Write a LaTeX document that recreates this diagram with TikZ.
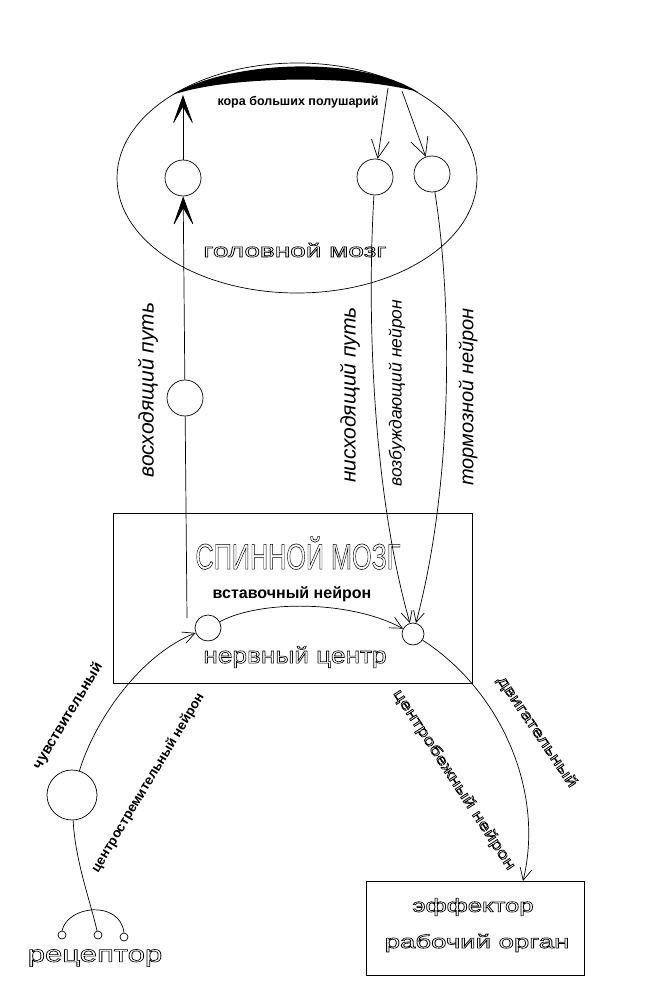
\documentclass[tikz,border=0pt]{standalone}
\usepackage{fontspec}
\setmainfont{Liberation Sans}
\usepackage{graphicx}
\usetikzlibrary{arrows.meta,shapes.geometric}
\newcommand{\outlined}[2][1]{\scalebox{#1}[1]{\special{pdf:literal direct 1 Tr 0.6 w}#2\special{pdf:literal direct 0 Tr}}}
\newcommand{\fsz}[1]{\fontsize{#1}{#1}\selectfont}

\begin{document}
\begin{tikzpicture}[x=1pt,y=-1pt,line width=0.7pt,
  neuron/.style={circle,draw,inner sep=0pt,minimum size=#1},
  big/.style={-{Stealth[length=31pt,width=22pt,inset=19pt]}},
  barb/.style={-{Straight Barb[length=#1,width=#1]}}]
\useasboundingbox (0,0) rectangle (665,1008);
% brain
\node[ellipse,draw,minimum width=360,minimum height=230] (brain) at (297,178) {};
\fill (172,95) .. controls (230,60) and (360,55) .. (418,92)
  .. controls (360,75) and (230,75) .. cycle;
\node[font=\bfseries\fsz{12.5}] (cortex) at (298,102) {кора больших полушарий};
\node (brainname) at (295,250) {\fsz{19}\outlined[1.47]{головной мозг}};
\node[neuron=36] (brainL) at (183,178) {};
\node[neuron=36] (brainM) at (375,177) {};
\node[neuron=36] (brainR) at (432,174) {};
\coordinate (ctxL) at (183,95);
\coordinate (ctxM) at (388,88);
\coordinate (ctxR) at (402,91);
% spinal cord
\node[draw,minimum width=359,minimum height=170] (spinal) at (292.5,598) {};
\node (spinalname) at (298,553) {\fsz{36}\outlined[0.7]{СПИННОЙ МОЗГ}};
\node[font=\bfseries\fsz{16}] (interlabel) at (292,594) {вставочный нейрон};
\node (centre) at (295,657) {\fsz{23}\outlined[1.14]{нервный центр}};
\node[neuron=26] (inter) at (208,628) {};
\node[neuron=22] (exc) at (413,634) {};
\node[neuron=36] (asc) at (185,398) {};
\coordinate (ascEnd) at (187,618);
% receptor
\node[neuron=50] (sens) at (72,795) {};
\foreach \n/\x/\y in {rA/62/935,rB/98/935,rC/124/937}
\node[neuron=8] (\n) at (\x,\y) {};
\draw (rA.north) .. controls (68,905) and (120,900) .. (rC.north);
\node (receptor) at (95,958) {\fsz{23}\outlined[1.35]{рецептор}};
% effector
\node[draw,minimum width=218,minimum height=94] (effector) at (475,928) {};
\node (effname) at (473,907) {\fsz{19}\outlined[1.35]{эффектор}};
\node (organ) at (477,943) {\fsz{19}\outlined[1.45]{рабочий орган}};
\coordinate (motorEnd) at (523,881);
% paths
\draw (ascEnd) -- (asc);
\draw[big] (asc) -- (brainL);
\draw[big] (brainL) -- (ctxL);
\draw[barb=18pt] (ctxM) -- (brainM);
\draw[barb=18pt] (ctxR) -- (brainR);
\draw[barb=11pt] (brainM) .. controls (366,330) and (375,500) .. (exc);
\draw[barb=11pt] (brainR) .. controls (452,300) and (454,480) .. (exc);
\draw[barb=12pt] (inter) .. controls (260,600) and (350,600) .. (exc);
\draw[barb=12pt] (sens) .. controls (95,720) and (140,655) .. (inter);
\draw (sens) .. controls (75,860) and (90,900) .. (rB);
\draw[barb=12pt] (exc) .. controls (500,690) and (545,790) .. (motorEnd);
% labels
\node[rotate=90,font=\itshape\fsz{21}] (upway) at (148,390) {восходящий путь};
\node[rotate=90,font=\itshape\fsz{21}] (downway) at (350,395) {нисходящий путь};
\node[rotate=90,font=\itshape\fsz{17.5}] (excit) at (397,393) {возбуждающий нейрон};
\node[rotate=90,font=\itshape\fsz{20}] (inhib) at (468,397) {тормозной нейрон};
\node[rotate=59,font=\bfseries\fsz{14.5}] (sensory) at (68,716) {чувствительный};
\node[rotate=59,font=\bfseries\fsz{13.5}] (afferent) at (148,783) {центростремительный нейрон};
\node[rotate=-57] (efferent) at (454,780) {\fsz{15}\outlined[1.35]{центробежный нейрон}};
\node[rotate=-56] (motor) at (537,732) {\fsz{15}\outlined[1.35]{двигательный}};
\end{tikzpicture}
\end{document}
